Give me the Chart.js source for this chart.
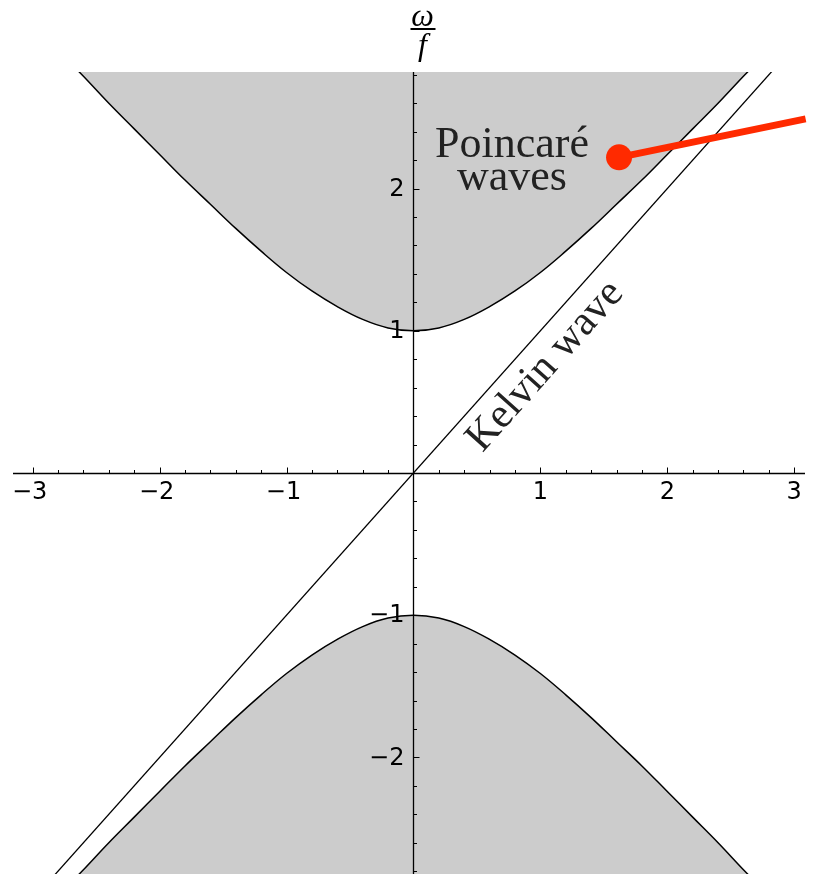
<!DOCTYPE html>
<html>
<head>
<meta charset="utf-8">
<title>Poincaré and Kelvin waves</title>
<script src="https://cdn.jsdelivr.net/npm/chart.js@4.4.1/dist/chart.umd.min.js"></script>
<style>
  html, body { margin: 0; padding: 0; background: #fff; overflow: hidden; }
  #wrap { width: 818px; height: 887px; }
  canvas { display: block; }
</style>
</head>
<body>
<div id="wrap"><canvas id="dispersion" width="818" height="887"></canvas></div>
<script>
// wavenumber k and frequency omega/f for the two Poincaré branches
const kValues = [-2.7, -2.6, -2.4, -2.2, -2, -1.8, -1.6, -1.4, -1.2, -1, -0.8, -0.6, -0.4, -0.2, 0,
                 0.2, 0.4, 0.6, 0.8, 1, 1.2, 1.4, 1.6, 1.8, 2, 2.2, 2.4, 2.6, 2.7];
const poincareUpper = [2.88, 2.79, 2.60, 2.42, 2.24, 2.06, 1.89, 1.72, 1.56, 1.41, 1.28, 1.17, 1.08, 1.02, 1.00,
                       1.02, 1.08, 1.17, 1.28, 1.41, 1.56, 1.72, 1.89, 2.06, 2.24, 2.42, 2.60, 2.79, 2.88];
const poincareLower = [-2.88, -2.79, -2.60, -2.42, -2.24, -2.06, -1.89, -1.72, -1.56, -1.41, -1.28, -1.17, -1.08, -1.02, -1.00,
                       -1.02, -1.08, -1.17, -1.28, -1.41, -1.56, -1.72, -1.89, -2.06, -2.24, -2.42, -2.60, -2.79, -2.88];

// Kelvin wave line
const kelvinK = [-2.85, 2.85];
const kelvinOmega = [-2.85, 2.85];

// red pointer into the Poincaré region
const pointerK = [1.62, 3.09];
const pointerOmega = [2.22, 2.49];

// axis ticks
const xTickValues = [-3, -2, -1, 1, 2, 3];
const xTickLabels = ['\u22123', '\u22122', '\u22121', '1', '2', '3'];
const yTickValues = [-2, -1, 1, 2];
const yTickLabels = ['\u22122', '\u22121', '1', '2'];

const toPoints = (xs, ys) => xs.map((x, i) => ({ x: x, y: ys[i] }));

const FILL_GREY = '#cccccc';
const POINTER_RED = '#ff2a00';

const axesPlugin = {
  id: 'crossAxes',
  afterDatasetsDraw(chart) {
    const ctx = chart.ctx;
    const area = chart.chartArea;
    const xs = chart.scales.x, ys = chart.scales.y;
    const x0 = Math.round(xs.getPixelForValue(0)) + 0.5;
    const y0 = Math.round(ys.getPixelForValue(0)) + 0.5;

    ctx.save();
    ctx.strokeStyle = '#000';
    ctx.lineWidth = 1.3;
    ctx.beginPath();
    ctx.moveTo(area.left, y0); ctx.lineTo(area.right, y0);
    ctx.moveTo(x0, area.top); ctx.lineTo(x0, area.bottom);
    ctx.stroke();

    // major ticks every 1, minor every 0.2
    ctx.lineWidth = 1;
    ctx.beginPath();
    for (let i = -16; i <= 16; i++) {
      if (i === 0) continue;
      const v = i / 5;
      const len = i % 5 === 0 ? 6 : 3.5;
      const px = Math.round(xs.getPixelForValue(v)) + 0.5;
      if (px > area.left && px < area.right) {
        ctx.moveTo(px, y0); ctx.lineTo(px, y0 - len);
      }
      const py = Math.round(ys.getPixelForValue(v)) + 0.5;
      if (py > area.top && py < area.bottom) {
        ctx.moveTo(x0, py); ctx.lineTo(x0 + len, py);
      }
    }
    ctx.stroke();

    ctx.fillStyle = '#000';
    ctx.font = '24px "DejaVu Sans"';
    ctx.textAlign = 'center';
    ctx.textBaseline = 'middle';
    xTickValues.forEach((v, i) => {
      ctx.fillText(xTickLabels[i], xs.getPixelForValue(v) - (v < 0 ? 3 : 0), y0 + 19);
    });
    ctx.textAlign = 'right';
    yTickValues.forEach((v, i) => {
      ctx.fillText(yTickLabels[i], x0 - 9, ys.getPixelForValue(v) + 1);
    });

    // omega / f axis label
    const cx = x0 + 9;
    ctx.textAlign = 'center';
    ctx.textBaseline = 'alphabetic';
    ctx.font = 'italic 32px "Liberation Serif"';
    ctx.fillText('\u03c9', cx, 26);
    ctx.fillRect(cx - 12, 28, 25, 2);
    ctx.fillText('f', cx, 55);

    // region labels
    ctx.fillStyle = '#222222';
    ctx.font = '44px "Liberation Serif"';
    ctx.fillText('Poincaré', 512, 157);
    ctx.fillText('waves', 512, 190);

    ctx.font = '42px "Liberation Serif"';
    const ang = Math.atan2(ys.getPixelForValue(1) - ys.getPixelForValue(0),
                           xs.getPixelForValue(1) - xs.getPixelForValue(0));
    ctx.translate(xs.getPixelForValue(1.04), ys.getPixelForValue(0.75));
    ctx.rotate(ang);
    ctx.textBaseline = 'middle';
    ctx.fillText('Kelvin wave', 0, 0);
    ctx.restore();
  }
};

new Chart(document.getElementById('dispersion'), {
  type: 'line',
  data: {
    datasets: [
      {
        data: toPoints(pointerK, pointerOmega),
        borderColor: POINTER_RED,
        borderWidth: 7,
        pointRadius: [13, 0],
        pointBackgroundColor: POINTER_RED,
        pointBorderWidth: 0,
        clip: false
      },
      {
        data: toPoints(kelvinK, kelvinOmega),
        borderColor: '#000',
        borderWidth: 1.3,
        pointRadius: 0
      },
      {
        data: toPoints(kValues, poincareUpper),
        borderColor: '#000',
        borderWidth: 1.5,
        backgroundColor: FILL_GREY,
        fill: 'end',
        tension: 0.4,
        pointRadius: 0
      },
      {
        data: toPoints(kValues, poincareLower),
        borderColor: '#000',
        borderWidth: 1.5,
        backgroundColor: FILL_GREY,
        fill: 'start',
        tension: 0.4,
        pointRadius: 0
      }
    ]
  },
  options: {
    responsive: false,
    animation: false,
    layout: { padding: { top: 72, left: 10, right: 0, bottom: 0 } },
    scales: {
      x: { type: 'linear', min: -3.155, max: 3.085, display: false },
      y: { type: 'linear', min: -2.82, max: 2.82, display: false }
    },
    plugins: {
      legend: { display: false },
      tooltip: { enabled: false }
    }
  },
  plugins: [axesPlugin]
});
</script>
</body>
</html>
